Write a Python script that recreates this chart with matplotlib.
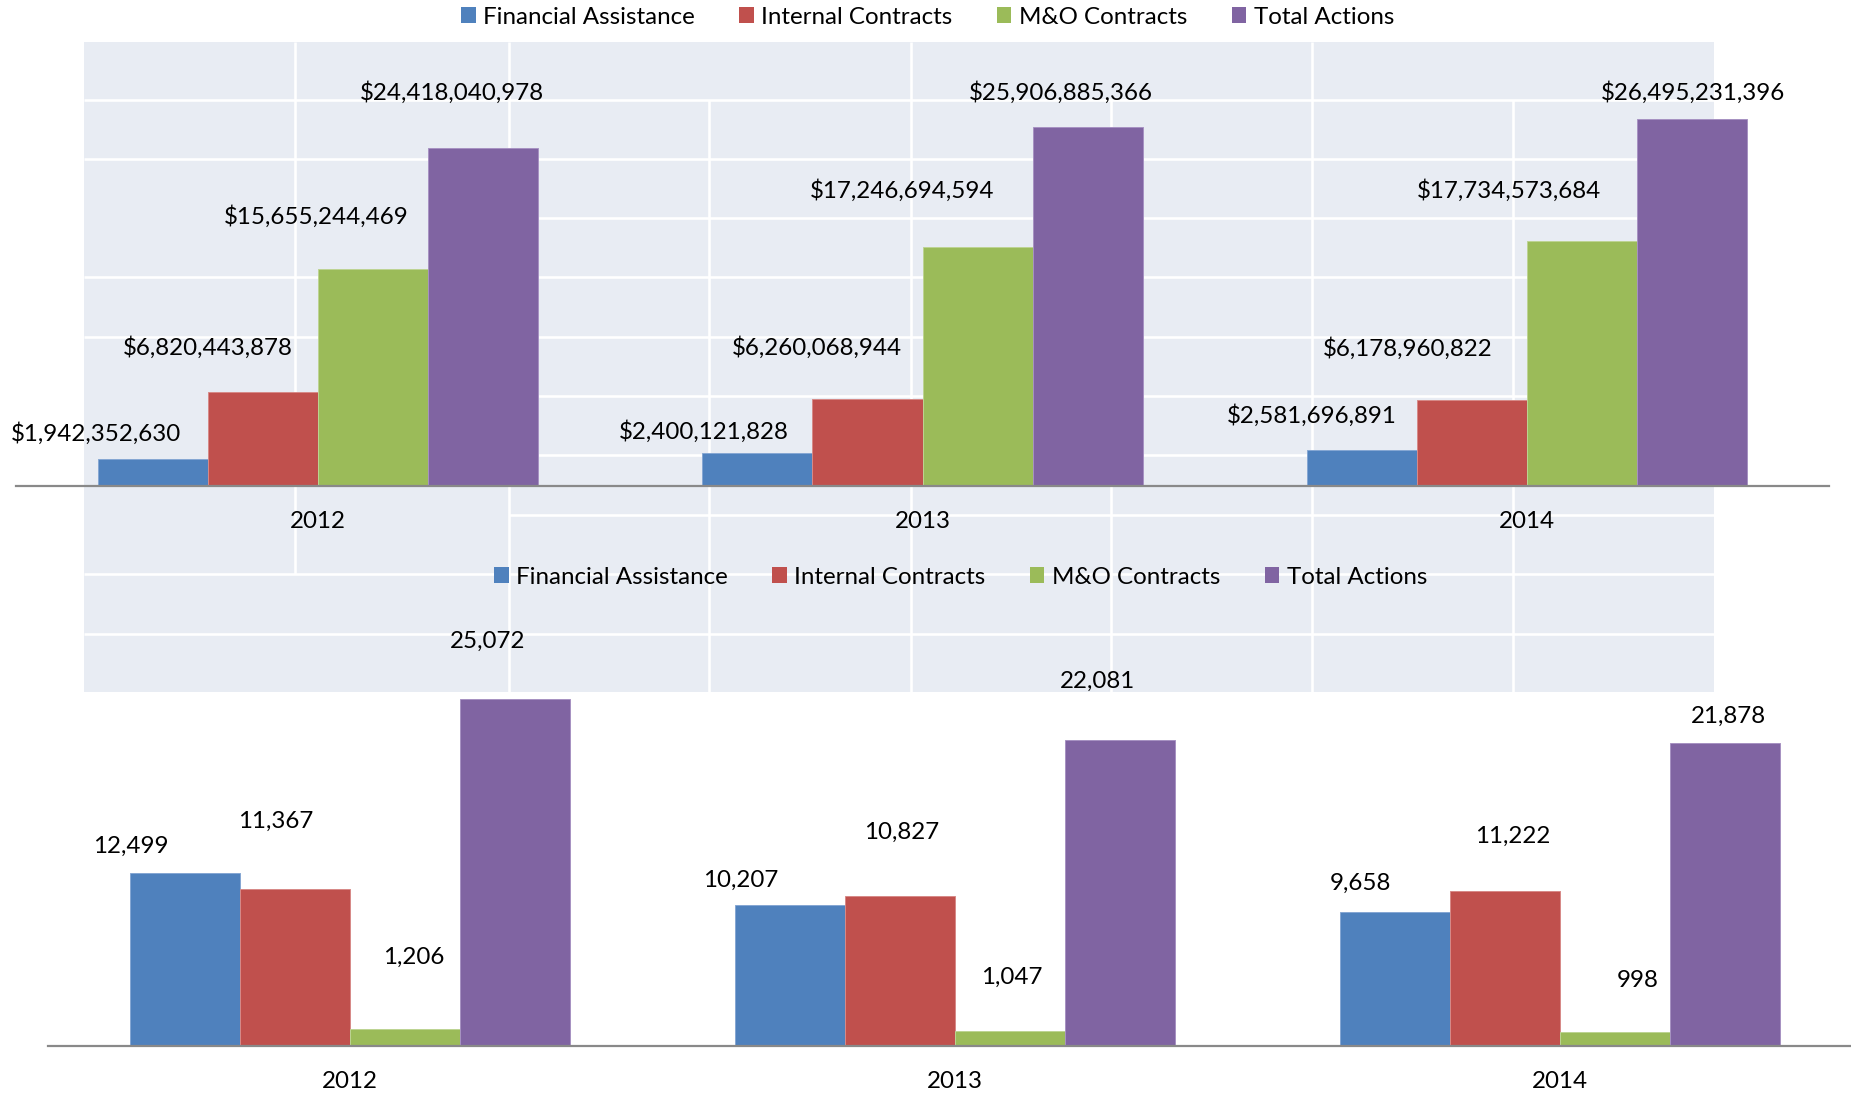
import matplotlib
matplotlib.use('Agg')
import matplotlib.pyplot as plt
from matplotlib.patches import Rectangle, Patch
import numpy as np

plt.rcParams['font.family'] = ['Lato', 'DejaVu Sans']

# ---- data ----
years = ['2012', '2013', '2014']
series = ['Financial Assistance', 'Internal Contracts', 'M&O Contracts', 'Total Actions']

financial_dollars = [1942352630, 2400121828, 2581696891]
internal_dollars = [6820443878, 6260068944, 6178960822]
mo_dollars = [15655244469, 17246694594, 17734573684]
total_dollars = [24418040978, 25906885366, 26495231396]

financial_count = [12499, 10207, 9658]
internal_count = [11367, 10827, 11222]
mo_count = [1206, 1047, 998]
total_count = [25072, 22081, 21878]

# ---- style / layout ----
colors = ['#4F81BD', '#C0504D', '#9BBB59', '#8064A2']
edges = ['#86A7D3', '#D78A88', '#BDD493', '#A792C2']
W, H = 1851, 1093
FS = 17.4

# label offsets (pixels) from bar-top centre, per series per year
top_offsets = [[(-57, 26), (-54, 21), (-50, 35)],
               [(-55, 44), (-51, 52), (-64, 52)],
               [(-57, 53), (-75, 57), (-73, 50)],
               [(-31, 56), (-27, 35), (1, 27)]]
bottom_offsets = [[(-54, 27), (-49, 24), (-34, 29)],
                  [(-19, 67), (2, 64), (8, 54)],
                  [(9, 72), (2, 54), (23, 52)],
                  [(-28, 57), (-23, 59), (3, 27)]]

# background table shading behind the charts (pixel layout)
panel = (84, 42, 1714, 692)
h_lines = [(100, 84), (159, 84), (218, 509), (277, 84), (337, 84),
           (396, 509), (455, 509), (515, 509), (574, 84), (634, 84)]
v_lines = [(295, 42, 574), (509, 42, 692), (709, 100, 692), (911, 42, 692),
           (1111, 100, 692), (1312, 42, 692), (1513, 100, 692)]

fig = plt.figure(figsize=(W / 100, H / 100), dpi=100)

bg = fig.add_axes([0, 0, 1, 1], zorder=0)
bg.set_xlim(0, W)
bg.set_ylim(H, 0)
bg.axis('off')
bg.add_patch(Rectangle((panel[0], panel[1]), panel[2] - panel[0], panel[3] - panel[1],
                       facecolor='#E8ECF3', edgecolor='none'))
for y, x0 in h_lines:
    bg.plot([x0, panel[2]], [y, y], color='white', lw=1.9, solid_capstyle='butt')
for x, y0, y1 in v_lines:
    bg.plot([x, x], [y0, y1], color='white', lw=1.9, solid_capstyle='butt')


def bar_chart(rect, ymax, values, offsets, fmt, legend_x, legend_y, z):
    ax = fig.add_axes(rect, zorder=z)
    ax.set_facecolor('none')
    x = np.arange(len(years))
    w = 0.182
    handles = []
    for i, vals in enumerate(values):
        pos = x + (i - 1.5) * w
        ax.bar(pos, vals, width=w, color=colors[i], edgecolor=edges[i], linewidth=0.7)
        for j, v in enumerate(vals):
            dx, dy = offsets[i][j]
            ax.annotate(fmt.format(v), xy=(pos[j], v), xytext=(dx, dy),
                        textcoords='offset pixels', ha='center', va='center',
                        fontsize=FS, color='black')
        handles.append(Patch(facecolor=colors[i], edgecolor='none'))
    for j, yr in enumerate(years):
        ax.annotate(yr, xy=(x[j], 0), xytext=(0, -36), textcoords='offset pixels',
                    ha='center', va='center', fontsize=FS)
    ax.set_xlim(-0.5, 2.5)
    ax.set_ylim(0, ymax)
    ax.set_xticks([])
    ax.set_yticks([])
    for s in ['top', 'left', 'right']:
        ax.spines[s].set_visible(False)
    ax.spines['bottom'].set_color('#898989')
    ax.spines['bottom'].set_linewidth(1.6)
    fig.legend(handles, series, loc='center', ncol=4, frameon=False, fontsize=FS,
               bbox_to_anchor=(legend_x / W, 1 - legend_y / H),
               handlelength=0.6, handleheight=0.6, handletextpad=0.3,
               columnspacing=1.85)
    return ax


bar_chart([15.75 / W, (H - 486) / H, 1813.5 / W, 444 / H], 32.08e9,
          [financial_dollars, internal_dollars, mo_dollars, total_dollars],
          top_offsets, '${:,}', 927.5, 17, 1)
bar_chart([47.5 / W, (H - 1046) / H, 1815 / W, 446 / H], 32200,
          [financial_count, internal_count, mo_count, total_count],
          bottom_offsets, '{:,}', 960.5, 577, 2)

fig.savefig('out.png', dpi=100)
